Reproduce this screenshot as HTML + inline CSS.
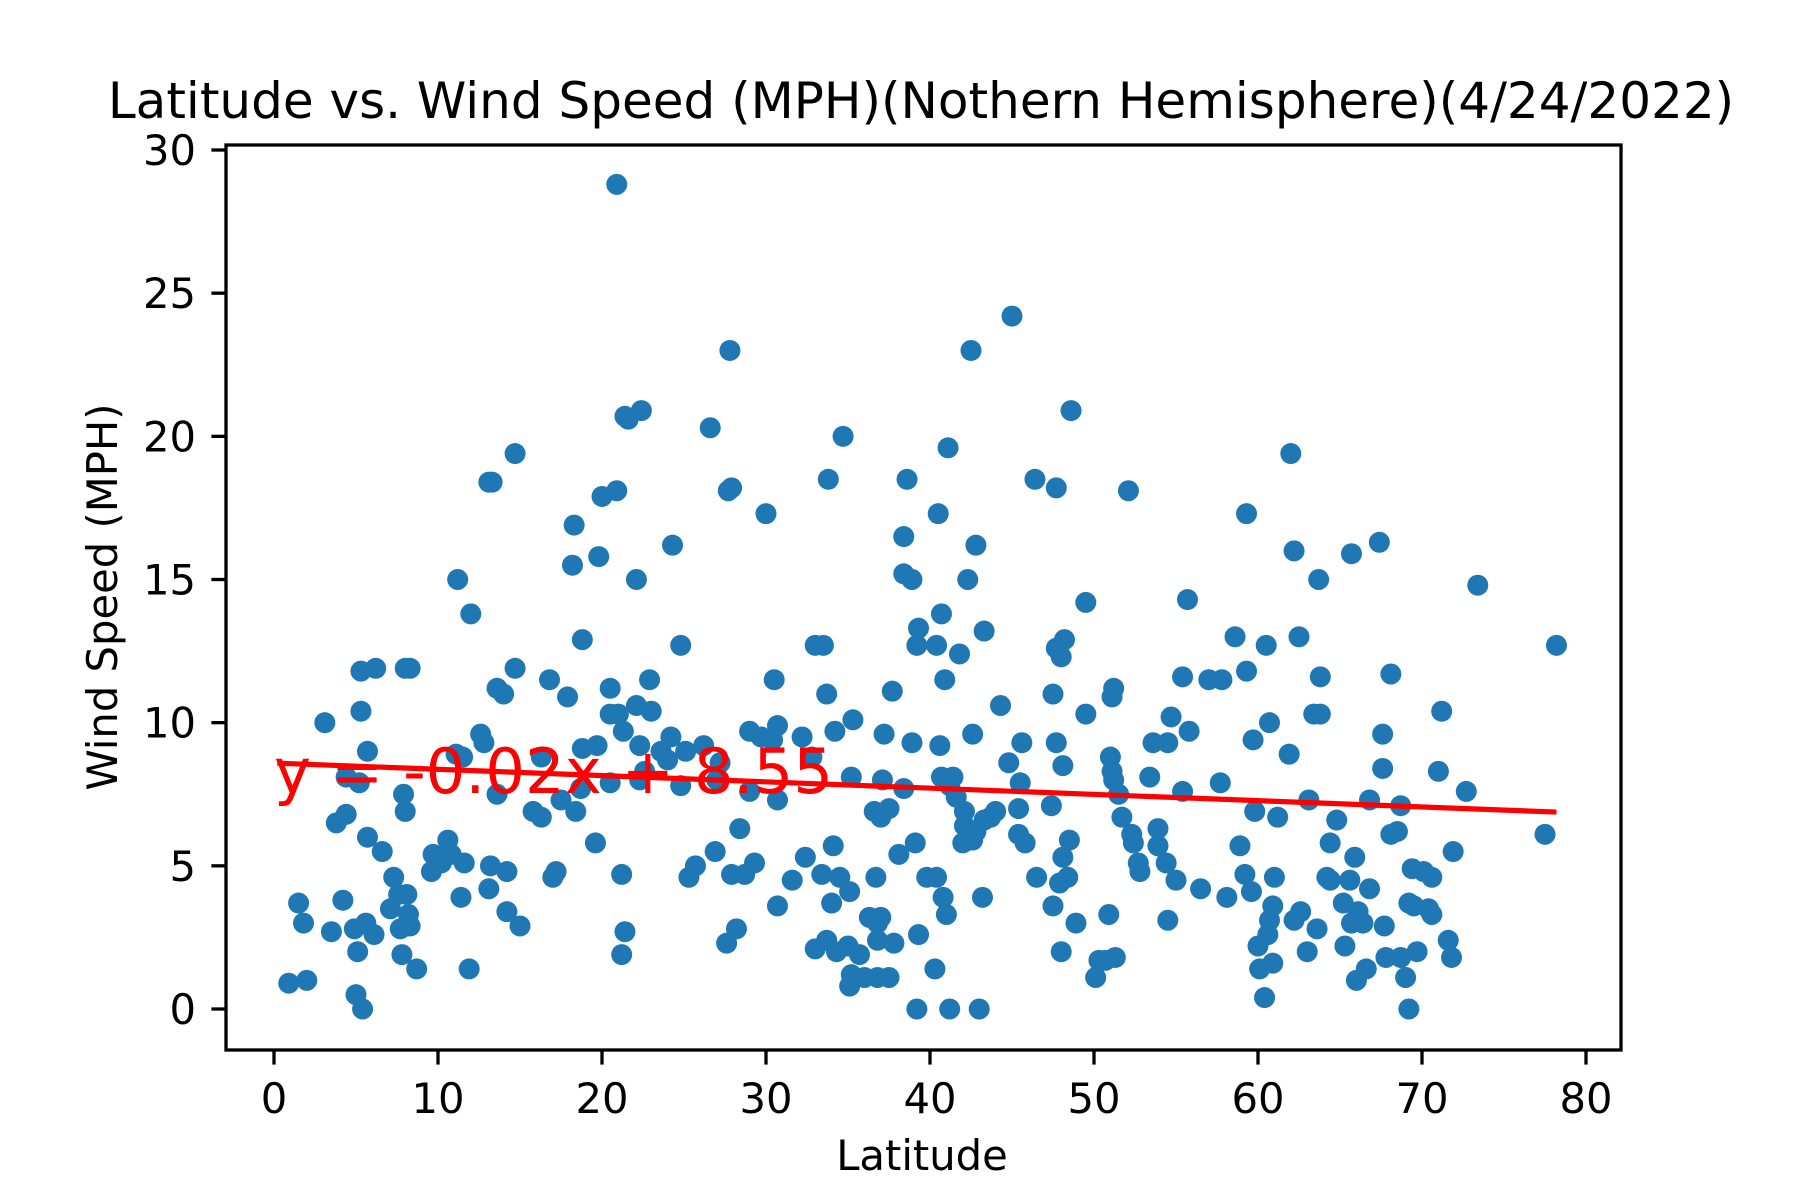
<!DOCTYPE html>
<html><head><meta charset="utf-8"><style>
html,body{margin:0;padding:0;background:#fff;}
svg{display:block;font-family:"DejaVu Sans","Liberation Sans",sans-serif;}
</style></head><body>
<svg id="chart" width="1800" height="1200" viewBox="0 0 1800 1200" xmlns="http://www.w3.org/2000/svg">
<rect width="1800" height="1200" fill="#fff"/>
<text x="921" y="118" font-size="50" text-anchor="middle">Latitude vs. Wind Speed (MPH)(Nothern Hemisphere)(4/24/2022)</text>
<g id="points"></g>
<g id="axes"></g>
<text x="922" y="1170" font-size="41.7" text-anchor="middle">Latitude</text>
<text transform="translate(117,597) rotate(-90)" font-size="41.7" text-anchor="middle">Wind Speed (MPH)</text>
</svg>
<script>
const lat = [0.9,2.0,1.5,1.8,3.1,3.5,3.8,4.2,4.4,4.4,4.9,5.0,5.1,5.4,5.3,5.3,5.2,5.7,5.7,5.6,6.2,6.1,6.6,7.1,7.3,7.6,7.7,7.8,7.9,8.0,8.0,8.3,8.1,8.2,8.3,8.7,
9.6,9.7,10.2,10.6,10.8,11.1,11.2,11.4,11.5,11.6,11.9,12.0,12.6,12.8,13.1,13.3,13.2,13.1,13.6,13.6,14.0,14.2,14.2,14.7,14.7,15.0,
15.8,16.3,16.3,16.8,17.0,17.2,17.5,17.9,18.2,18.3,18.4,18.7,18.8,18.8,19.6,19.8,19.7,20.0,20.5,20.5,20.5,20.9,20.9,21.0,21.2,21.2,21.4,21.3,21.4,21.6,22.1,22.1,22.3,22.4,22.6,22.9,23.0,22.3,23.6,24.0,24.2,24.3,24.8,24.8,25.1,25.3,25.7,
26.2,26.6,26.9,27.0,27.2,27.6,27.7,27.9,27.8,27.9,28.2,28.4,28.7,29.0,29.0,29.3,29.7,30.0,30.4,30.5,30.7,30.7,30.7,31.6,32.2,32.4,32.8,33.0,33.0,33.5,33.4,33.7,33.7,33.8,34.0,34.2,34.3,34.1,34.7,34.5,35.0,35.1,35.1,35.2,35.2,35.3,35.7,36.0,36.3,36.6,36.7,36.8,36.8,36.8,37.0,37.1,37.0,37.2,37.5,37.5,37.7,37.8,38.1,38.4,38.4,38.4,38.6,38.9,38.9,39.1,39.2,39.2,39.3,39.3,39.8,40.3,40.4,40.5,40.4,40.6,40.7,40.8,40.9,40.7,41.0,41.1,41.2,41.2,41.4,41.6,41.8,42.0,42.1,42.1,42.3,42.5,42.6,42.6,42.8,42.8,43.0,43.2,43.3,43.3,43.7,44.0,44.3,44.8,45.0,45.4,45.4,45.6,45.5,45.8,46.4,46.5,
47.4,47.5,47.5,47.7,47.7,47.7,47.9,48.0,48.1,48.0,48.1,48.2,48.4,48.5,48.6,48.9,49.5,49.5,50.1,50.3,50.7,50.9,51.0,51.1,51.2,51.1,51.2,51.5,51.3,51.7,52.1,52.3,52.4,52.7,52.8,53.4,53.6,53.9,53.9,54.4,54.5,54.5,54.7,55.0,55.4,55.4,55.7,55.8,56.5,57.0,57.8,57.7,58.1,58.6,58.9,59.2,59.3,59.3,59.6,59.7,59.8,60.0,60.1,60.4,60.5,60.6,60.7,60.7,60.9,60.9,61.0,61.2,
62.0,61.9,62.2,62.2,62.5,62.6,63.0,63.1,63.4,63.8,63.7,63.8,63.6,64.2,64.4,64.4,64.8,65.2,65.3,65.6,65.7,65.7,65.9,66.1,66.0,66.4,66.6,66.8,66.8,67.4,67.6,67.6,67.7,67.8,68.1,68.1,68.5,68.7,68.7,69.0,69.2,69.2,69.4,69.7,69.5,70.1,70.4,70.6,70.6,71.0,71.2,71.6,71.8,71.9,72.7,73.4,77.5,78.2];
const wind = [0.9,1.0,3.7,3.0,10.0,2.7,6.5,3.8,6.8,8.1,2.8,0.5,2.0,0,11.8,10.4,7.9,9.0,6.0,3.0,11.9,2.6,5.5,3.5,4.6,4.0,2.8,1.9,7.5,6.9,11.9,11.9,4.0,3.3,2.9,1.4,
4.8,5.4,5.1,5.9,5.4,8.9,15.0,3.9,8.8,5.1,1.4,13.8,9.6,9.3,18.4,18.4,5.0,4.2,11.2,7.5,11.0,4.8,3.4,19.4,11.9,2.9,
6.9,6.7,8.8,11.5,4.6,4.8,7.3,10.9,15.5,16.9,6.9,7.7,12.9,9.1,5.8,15.8,9.2,17.9,11.2,10.3,7.9,28.8,18.1,10.3,4.7,1.9,2.7,9.7,20.7,20.6,15.0,10.6,9.2,20.9,8.3,11.5,10.4,8.0,9.0,8.7,9.5,16.2,12.7,7.8,9.0,4.6,5.0,
9.2,20.3,5.5,8.0,8.6,2.3,18.1,18.2,23.0,4.7,2.8,6.3,4.7,9.7,7.6,5.1,9.5,17.3,9.4,11.5,3.6,9.9,7.3,4.5,9.5,5.3,8.8,2.1,12.7,12.7,4.7,11.0,2.4,18.5,3.7,9.7,2.0,5.7,20.0,4.6,2.2,0.8,4.1,1.2,8.1,10.1,1.9,1.1,3.2,6.9,4.6,3.0,2.4,1.1,3.2,8.0,6.7,9.6,7.0,1.1,11.1,2.3,5.4,7.7,16.5,15.2,18.5,15.0,9.3,5.8,12.7,0,13.3,2.6,4.6,1.4,12.7,17.3,4.6,9.2,13.8,3.9,11.5,8.1,3.3,19.6,7.8,0,8.1,7.4,12.4,5.8,6.9,6.4,15.0,23.0,9.6,5.9,16.2,6.2,0,3.9,13.2,6.6,6.7,6.9,10.6,8.6,24.2,7.0,6.1,9.3,7.9,5.8,18.5,4.6,
7.1,11.0,3.6,12.6,18.2,9.3,4.4,12.3,5.3,2.0,8.5,12.9,4.6,5.9,20.9,3.0,14.2,10.3,1.1,1.7,1.7,3.3,8.8,10.9,11.2,8.3,8.0,7.5,1.8,6.7,18.1,6.1,5.8,5.1,4.8,8.1,9.3,6.3,5.7,5.1,9.3,3.1,10.2,4.5,11.6,7.6,14.3,9.7,4.2,11.5,11.5,7.9,3.9,13.0,5.7,4.7,11.8,17.3,4.1,9.4,6.9,2.2,1.4,0.4,12.7,2.6,10.0,3.1,1.6,3.6,4.6,6.7,
19.4,8.9,16.0,3.1,13.0,3.4,2.0,7.3,10.3,10.3,15.0,11.6,2.8,4.6,5.8,4.5,6.6,3.7,2.2,4.5,15.9,3.0,5.3,3.4,1.0,3.0,1.4,4.2,7.3,16.3,9.6,8.4,2.9,1.8,11.7,6.1,6.2,7.1,1.8,1.1,0,3.7,4.9,2.0,3.6,4.8,3.5,3.3,4.6,8.3,10.4,2.4,1.8,5.5,7.6,14.8,6.1,12.7];
const xTicks = [0,10,20,30,40,50,60,70,80];
const yTicks = [0,5,10,15,20,25,30];
const fitSlope = [-0.0219];
const fitIntercept = [8.59];
const fitRange = [0.2, 78.2];
const fitLabel = ["y = -0.02x + 8.55"];

const NS = "http://www.w3.org/2000/svg";
const L = 226, R = 1621, T = 145, B = 1050;
const xs = v => 274 + v * 16.4;
const ys = v => 1009 - v * 28.633;
function mk(tag, attrs, parent){const e=document.createElementNS(NS,tag);for(const k in attrs)e.setAttribute(k,attrs[k]);parent.appendChild(e);return e;}
const pts = document.getElementById('points');
for(let i=0;i<lat.length;i++){
  const c = mk('circle',{cx:xs(lat[i]),cy:ys(wind[i]),r:10.5,fill:'#1f77b4'},pts);
  
  
}
const ax = document.getElementById('axes');
const ln = mk('line',{x1:xs(fitRange[0]),y1:ys(fitSlope[0]*fitRange[0]+fitIntercept[0]),x2:xs(fitRange[1]),y2:ys(fitSlope[0]*fitRange[1]+fitIntercept[0]),stroke:'#ff0000','stroke-width':5.2},ax);


const ann = mk('text',{x:xs(0),y:793,'font-size':62.5,fill:'#ff0000'},ax);
ann.textContent = fitLabel[0];


const frame = mk('rect',{x:L,y:T,width:R-L,height:B-T,fill:'none',stroke:'#000','stroke-width':3.3},ax);


xTicks.forEach(t=>{
  const tk = mk('line',{x1:xs(t),x2:xs(t),y1:B,y2:B+14.6,stroke:'#000','stroke-width':3.3},ax);
  
  
  const tx = mk('text',{x:xs(t),y:1113,'font-size':41.7,'text-anchor':'middle'},ax);
  tx.textContent = t;
  
  
});
yTicks.forEach(t=>{
  const tk = mk('line',{x1:L-14.6,x2:L,y1:ys(t),y2:ys(t),stroke:'#000','stroke-width':3.3},ax);
  
  
  const tx = mk('text',{x:L-30,y:ys(t)+15,'font-size':41.7,'text-anchor':'end'},ax);
  tx.textContent = t;
  
  
});
</script>
</body></html>
